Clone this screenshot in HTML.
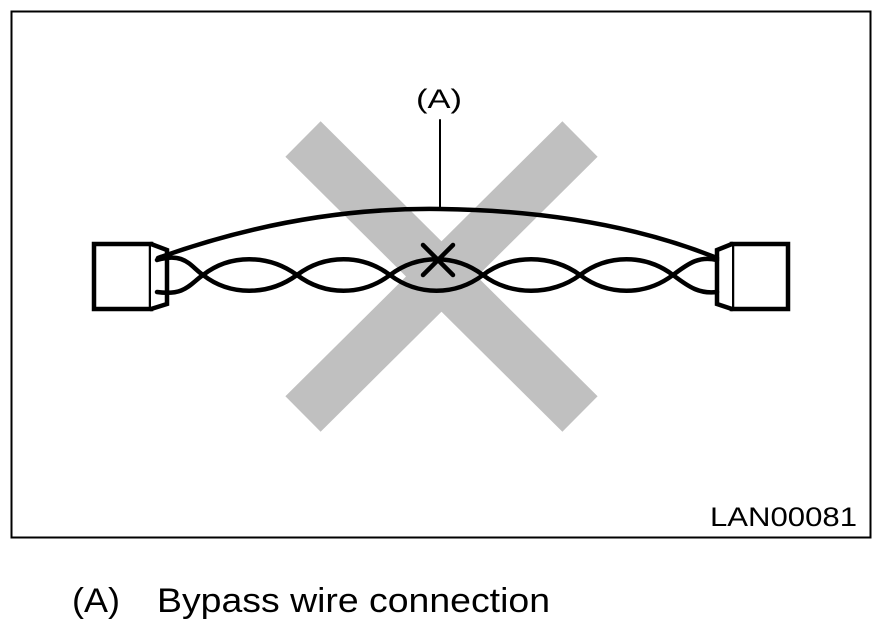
<!DOCTYPE html>
<html><head><style>
html,body{margin:0;padding:0;background:#fff;}
</style></head><body>
<svg width="880" height="628" viewBox="0 0 880 628" xmlns="http://www.w3.org/2000/svg">
<rect x="0" y="0" width="880" height="628" fill="#fff"/>
<rect x="11.5" y="11.5" width="859" height="526" fill="none" stroke="#000" stroke-width="2"/>
<g stroke="#c0c0c0" stroke-width="50" stroke-linecap="butt">
<line x1="303" y1="139" x2="580" y2="414"/>
<line x1="580" y1="139" x2="303" y2="414"/>
</g>
<g fill="none" stroke="#000" stroke-width="4.5" stroke-linecap="round">
<rect x="94" y="244" width="57" height="65" fill="#fff"/>
<path d="M151 244 L167 250 L167 304 L151 309" fill="#fff"/>
<rect x="732" y="244" width="56" height="65" fill="#fff"/>
<path d="M732 244 L717 250 L717 304 L732 309" fill="#fff"/>
<path d="M158 258 Q300 207 440 209 Q600 211 717 258"/>
<line x1="440" y1="209" x2="440" y2="120" stroke-width="2"/>
<path d="M157 260 C185 252 190 266 203 275 C230 296 268 296 297 275 C325 254 362 254 390 275 C418 296 455 296 483 275 C510 254 552 254 580 275 C608 296 645 296 673 275 C690 262 700 256 717 260"/>
<path d="M157 292 C185 296 190 284 203 275 C230 254 268 254 297 275 C325 296 362 296 390 275 C418 254 455 254 483 275 C510 296 552 296 580 275 C608 254 645 254 673 275 C690 288 700 294 717 292"/>
<line x1="423" y1="245" x2="453" y2="275"/>
<line x1="453" y1="245" x2="423" y2="275"/>
</g>
<g font-family="Liberation Sans, sans-serif" fill="#000">
<text x="416" y="108" font-size="27" textLength="46" lengthAdjust="spacingAndGlyphs">(A)</text>
<text x="710" y="526" font-size="27" textLength="147" lengthAdjust="spacingAndGlyphs">LAN00081</text>
<text x="72" y="612" font-size="34" textLength="48" lengthAdjust="spacingAndGlyphs">(A)</text>
<text x="157" y="612" font-size="34" textLength="393" lengthAdjust="spacingAndGlyphs">Bypass wire connection</text>
</g>
</svg>
</body></html>
